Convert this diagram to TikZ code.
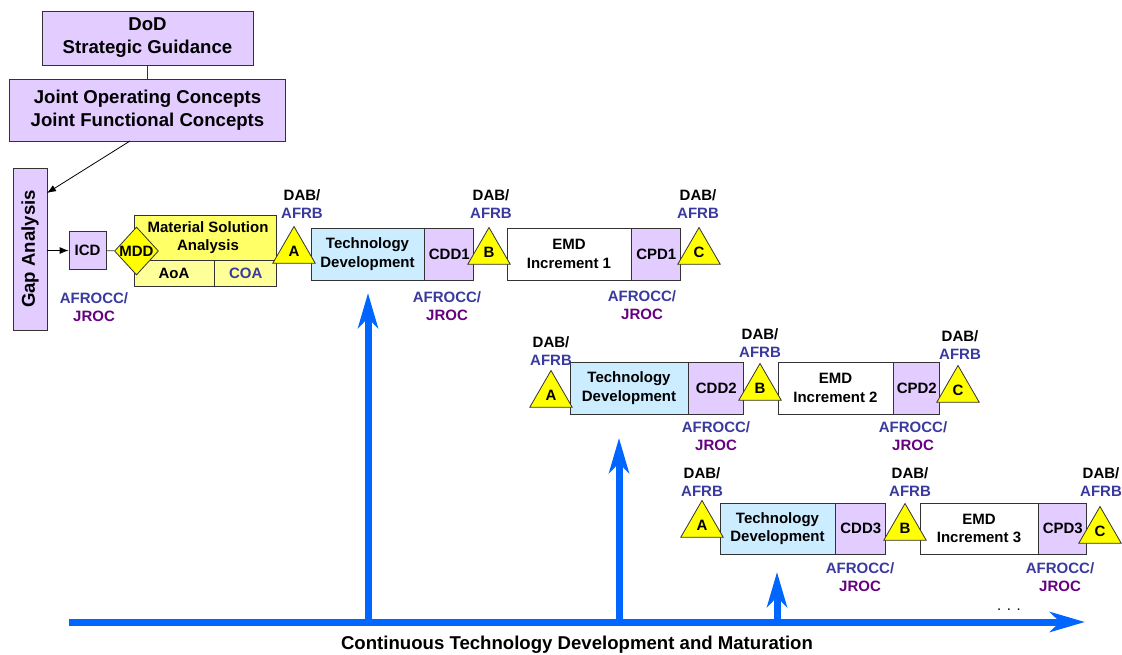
\documentclass[tikz,border=0pt]{standalone}
\usepackage{fontspec}
\setmainfont{Liberation Sans}
\usepackage{tikz}
\usetikzlibrary{positioning,shapes.geometric,arrows.meta}

\definecolor{lilac}{HTML}{E3CCFF}
\definecolor{skyfill}{HTML}{CCECFF}
\definecolor{msayellow}{HTML}{FFFF66}
\definecolor{aoayellow}{HTML}{FFFF99}
\definecolor{gateyellow}{HTML}{FFFF00}
\definecolor{afrbblue}{HTML}{3A3A9E}
\definecolor{jrocpurple}{HTML}{660080}
\definecolor{flowblue}{HTML}{0066FF}

\tikzset{
  txt/.style={font=\bfseries\fontsize{15}{18.5}\selectfont, align=center, inner sep=0pt},
  bigtxt/.style={font=\bfseries\fontsize{18.6}{23}\selectfont, align=center, inner sep=0pt},
  box/.style={draw=black!80, line width=0.8pt},
  topbox/.style={box, bigtxt, fill=lilac},
  phasebox/.style={box, txt, minimum height=52},
  gate/.style={regular polygon, regular polygon sides=3, minimum size=49, inner sep=0pt,
    draw=black!80, line width=0.8pt, fill=gateyellow, txt},
  decision/.style={diamond, minimum width=44, minimum height=48, inner sep=0pt,
    draw=black!80, line width=0.8pt, fill=gateyellow},
  link/.style={draw=black!80, line width=0.8pt},
  pointer/.style={draw=black, line width=0.8pt, -{Latex[length=9pt,width=7pt]}},
  flow/.style={draw=flowblue, line width=7pt, -{Stealth[length=35pt,width=20pt,inset=10pt]}}
}
\newcommand{\dabafrb}{DAB/\\\textcolor{afrbblue}{AFRB}}
\newcommand{\afroccjroc}{\textcolor{afrbblue}{AFROCC/}\\\textcolor{jrocpurple}{JROC}}

\begin{document}
\begin{tikzpicture}[x=1pt,y=-1pt]
\useasboundingbox (0,0) rectangle (1122,654);

% guidance and gap analysis
\node[topbox, minimum width=211, minimum height=54] (dod) at (147.5,38) {DoD\\Strategic Guidance};
\node[topbox, minimum width=276, minimum height=62] (joc) at (147.5,110) {Joint Operating Concepts\\Joint Functional Concepts};
\draw[link] (dod.south) -- (joc.north);
\node[topbox, rotate=90, minimum width=162, minimum height=34] (gap) at (30,249) {Gap Analysis};
\coordinate (jocout) at (130,141);
\coordinate (gapin) at (47,193);
\draw[pointer] (jocout) -- (gapin);

% materiel solution analysis
\node[phasebox, fill=lilac, minimum width=37, minimum height=38] (icd) at (87.5,250.5) {ICD};
\draw[pointer] (gap.south |- icd) -- (icd);
\node[phasebox, fill=msayellow, minimum width=142, minimum height=45] (msa) at (205,237.5) {\hspace{6pt}Material Solution\\\hspace{6pt}Analysis};
\node[phasebox, fill=aoayellow, minimum width=80, minimum height=26, anchor=north west] (aoa) at (msa.south west) {AoA};
\node[phasebox, fill=aoayellow, minimum width=62, minimum height=26, text=afrbblue, right=0pt of aoa] (coa) {COA};
\node[decision] (mdd) at (136.5,251) {};
\node[txt] (mddtext) at (mdd) {MDD};
\draw[link] (icd) -- (mdd);
\node[txt] (roc0) at (94,307) {\afroccjroc};

% increment 1
\node[phasebox, fill=skyfill, minimum width=113] (td1) at (367.5,254) {Technology\\Development};
\node[phasebox, fill=lilac, minimum width=49, right=0pt of td1] (cdd1) {CDD1};
\node[phasebox, fill=white, minimum width=124] (emd1) at (569,254) {EMD\\Increment 1};
\node[phasebox, fill=lilac, minimum width=49, right=0pt of emd1] (cpd1) {CPD1};
\node[gate] (a1) at (294,251) {A};
\node[gate] (b1) at (489,252) {B};
\node[gate] (c1) at (699,252) {C};
\node[txt] (dab1a) at (302,204) {\dabafrb};
\node[txt] (dab1b) at (491,204) {\dabafrb};
\node[txt] (dab1c) at (698,204) {\dabafrb};
\node[txt] (roc1b) at (447,306) {\afroccjroc};
\node[txt] (roc1c) at (642,305) {\afroccjroc};

% increment 2
\node[phasebox, fill=skyfill, minimum width=118] (td2) at (629,388) {Technology\\Development};
\node[phasebox, fill=lilac, minimum width=55, right=0pt of td2] (cdd2) {CDD2};
\node[phasebox, fill=white, minimum width=115] (emd2) at (835.5,388) {EMD\\Increment 2};
\node[phasebox, fill=lilac, minimum width=46, right=0pt of emd2] (cpd2) {CPD2};
\node[gate] (a2) at (551,395) {A};
\node[gate] (b2) at (760,388) {B};
\node[gate] (c2) at (958,390) {C};
\node[txt] (dab2a) at (551,351) {\dabafrb};
\node[txt] (dab2b) at (760,343) {\dabafrb};
\node[txt] (dab2c) at (960,345) {\dabafrb};
\node[txt] (roc2b) at (716,436) {\afroccjroc};
\node[txt] (roc2c) at (913,436) {\afroccjroc};

% increment 3
\node[phasebox, fill=skyfill, minimum width=115, minimum height=51] (td3) at (777.5,528.5) {Technology\\Development};
\node[phasebox, fill=lilac, minimum width=50, minimum height=51, right=0pt of td3] (cdd3) {CDD3};
\node[phasebox, fill=white, minimum width=118, minimum height=51] (emd3) at (979,528.5) {EMD\\Increment 3};
\node[phasebox, fill=lilac, minimum width=48, minimum height=51, right=0pt of emd3] (cpd3) {CPD3};
\node[gate] (a3) at (702,525) {A};
\node[gate] (b3) at (905,528) {B};
\node[gate] (c3) at (1100,531) {C};
\node[txt] (dab3a) at (702,482) {\dabafrb};
\node[txt] (dab3b) at (910,482) {\dabafrb};
\node[txt] (dab3c) at (1101,482) {\dabafrb};
\node[txt] (roc3b) at (860,577) {\afroccjroc};
\node[txt] (roc3c) at (1060,577) {\afroccjroc};

% technology base
\coordinate (flowstart) at (69,622);
\coordinate (flowend) at (1085,622);
\coordinate (rise1) at (368,622);
\coordinate (rise2) at (619,622);
\coordinate (rise3) at (777,622);
\coordinate (tip1) at (368,293);
\coordinate (tip2) at (619,438);
\coordinate (tip3) at (777,572);
\draw[flow] (flowstart) -- (flowend);
\draw[flow] (rise1) -- (tip1);
\draw[flow] (rise2) -- (tip2);
\draw[flow] (rise3) -- (tip3);
\node[font=\fontsize{15}{18}\selectfont, inner sep=0pt] (more) at (1009,610) {. . .};
\node[bigtxt] (base) at (577,645) {Continuous Technology Development and Maturation};
\end{tikzpicture}
\end{document}
